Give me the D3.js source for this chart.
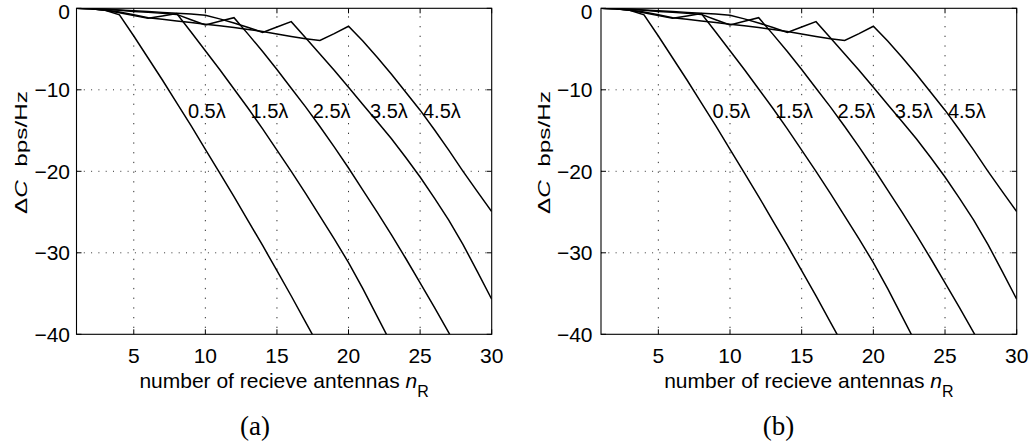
<!DOCTYPE html>
<html>
<head>
<meta charset="utf-8">
<script src="https://cdn.jsdelivr.net/npm/d3@7"></script>
<style>
  html, body { margin: 0; padding: 0; background: #fff; }
  svg { display: block; }
  text { font-family: "Liberation Sans", Arial, Helvetica, sans-serif; fill: #000; }
</style>
</head>
<body>
<svg id="chart" width="1034" height="443"></svg>
<script>
// ---------------- data ----------------
const nR = [1,2,3,4,5,6,7,8,9,10,11,12,13,14,15,16,17,18,19,20,21,22,23,24,25,26,27,28,29,30];

const s05 = [0, -0.05, -0.25, -0.8, -3.4, -6.1, -8.8, -11.6, -14.4, -17.3, -20.2, -23.1, -26.1, -29.1, -32.2, -35.3, -38.5, -41.7];
const s15 = [0, -0.05, -0.25, -0.55, -0.9, -1.23, -0.95, -0.65, -2.9, -5.2, -7.5, -9.9, -12.3, -14.8, -17.4, -20.0, -22.7, -25.5, -28.3, -31.2, -34.4, -37.8, -41.2];
const s25 = [0, -0.03, -0.12, -0.25, -0.38, -0.5, -0.62, -0.75, -1.4, -2.05, -1.6, -1.15, -3.2, -5.3, -7.5, -9.8, -12.1, -14.5, -17.0, -19.6, -22.3, -25.0, -27.8, -30.7, -33.7, -36.7, -39.8, -43.0];
const s35 = [0, -0.03, -0.1, -0.2, -0.3, -0.4, -0.5, -0.6, -0.7, -0.85, -1.3, -1.8, -2.35, -2.95, -2.3, -1.64, -3.6, -5.6, -7.6, -9.7, -11.8, -13.9, -16.0, -18.3, -20.7, -23.3, -26.0, -29.0, -32.3, -35.7];
const s45 = [0, -0.05, -0.2, -0.45, -0.8, -1.15, -1.35, -1.55, -1.75, -1.95, -2.15, -2.35, -2.6, -2.85, -3.15, -3.45, -3.75, -3.95, -3.1, -2.2, -4.0, -6.0, -8.1, -10.3, -12.5, -14.9, -17.4, -20.0, -22.5, -24.95];

const seriesList = [s05, s15, s25, s35, s45];
const curveLabels = ["0.5\u03bb", "1.5\u03bb", "2.5\u03bb", "3.5\u03bb", "4.5\u03bb"];
const labelX = [8.78, 13.15, 17.5, 21.5, 25.2];
const labelY = -13.45;

const xTicks = [5, 10, 15, 20, 25, 30];
const yTicks = [0, -10, -20, -30, -40];
const xGrid = [5, 10, 15, 20, 25];
const yGrid = [-10, -20, -30];
const captions = ["(a)", "(b)"];

// ---------------- drawing ----------------
const svg = d3.select("#chart");

const panels = [
  { x0: 76.5, x1: 491.7, cap: captions[0], capX: 255, ylabX: 27, yLabGap: 6.5 },
  { x0: 601.0, x1: 1016.7, cap: captions[1], capX: 778.5, ylabX: 550, yLabGap: 8.5 }
];
const plotTop = 8.3, plotBottom = 334.3;

function addText(g, x, y, txt, size, anchor) {
  return g.append("text")
    .attr("x", x).attr("y", y)
    .attr("text-anchor", anchor)
    .style("font-size", size + "px")
    .text(txt);
}

panels.forEach((p, pi) => {
  const g = svg.append("g");
  const x = d3.scaleLinear().domain([1, 30]).range([p.x0, p.x1]);
  const y = d3.scaleLinear().domain([-40, 0]).range([plotBottom, plotTop]);

  const clipId = "clip" + pi;
  g.append("clipPath").attr("id", clipId)
    .append("rect").attr("x", p.x0).attr("y", plotTop)
    .attr("width", p.x1 - p.x0).attr("height", plotBottom - plotTop);

  // grid
  g.selectAll(".vg").data(xGrid).enter().append("line")
    .attr("x1", d => x(d)).attr("x2", d => x(d))
    .attr("y1", plotTop).attr("y2", plotBottom)
    .attr("stroke", "#333").attr("stroke-width", 1)
    .attr("stroke-dasharray", "1.3,8.4").attr("stroke-dashoffset", -8);
  g.selectAll(".hg").data(yGrid).enter().append("line")
    .attr("x1", p.x0).attr("x2", p.x1)
    .attr("y1", d => y(d)).attr("y2", d => y(d))
    .attr("stroke", "#333").attr("stroke-width", 1)
    .attr("stroke-dasharray", "1,6.3");

  // curves
  const line = d3.line().x((d, i) => x(nR[i])).y(d => y(d));
  const cg = g.append("g").attr("clip-path", `url(#${clipId})`);
  seriesList.forEach(s => {
    cg.append("path").datum(s).attr("d", line)
      .attr("fill", "none").attr("stroke", "#000")
      .attr("stroke-width", 1.5).attr("stroke-linejoin", "miter");
  });

  // frame
  g.append("rect").attr("x", p.x0).attr("y", plotTop)
    .attr("width", p.x1 - p.x0).attr("height", plotBottom - plotTop)
    .attr("fill", "none").attr("stroke", "#000").attr("stroke-width", 1.1);

  // ticks (inward)
  const tl = 5;
  xTicks.forEach(t => {
    g.append("line").attr("x1", x(t)).attr("x2", x(t)).attr("y1", plotBottom).attr("y2", plotBottom - tl).attr("stroke", "#000");
    g.append("line").attr("x1", x(t)).attr("x2", x(t)).attr("y1", plotTop).attr("y2", plotTop + tl).attr("stroke", "#000");
  });
  yTicks.forEach(t => {
    g.append("line").attr("x1", p.x0).attr("x2", p.x0 + tl).attr("y1", y(t)).attr("y2", y(t)).attr("stroke", "#000");
    g.append("line").attr("x1", p.x1).attr("x2", p.x1 - tl).attr("y1", y(t)).attr("y2", y(t)).attr("stroke", "#000");
  });

  // tick labels
  xTicks.forEach(t => addText(g, x(t), 362.5, String(t), 21, "middle"));
  yTicks.forEach(t => addText(g, p.x0 - p.yLabGap, Math.max(y(t) + 7.3, 19.3),
    t === 0 ? "0" : "\u2212" + Math.abs(t), 21, "end"));

  // curve labels
  curveLabels.forEach((lab, i) => addText(g, x(labelX[i]), y(labelY), lab, 20, "start"));

  // x title
  const xt = g.append("text")
    .attr("x", (p.x0 + p.x1) / 2).attr("y", 388)
    .attr("text-anchor", "middle").style("font-size", "21px");
  xt.append("tspan").text("number of recieve antennas ");
  xt.append("tspan").style("font-style", "italic").text("n");
  xt.append("tspan").attr("dy", 9).style("font-size", "16px").text("R");

  // y title
  const yt = g.append("text")
    .attr("transform", `translate(${p.ylabX},152.5) scale(1,1.43) rotate(-90)`)
    .attr("text-anchor", "middle").style("font-size", "17px")
    .attr("xml:space", "preserve");
  yt.append("tspan").text("\u0394");
  yt.append("tspan").style("font-style", "italic").text("C");
  yt.append("tspan").text("  bps/Hz");

  // caption
  g.append("text").attr("x", p.capX).attr("y", 435)
    .attr("text-anchor", "middle")
    .style("font-family", "'Liberation Serif', 'Times New Roman', serif")
    .style("font-size", "27px").text(p.cap);
});
</script>
</body>
</html>
